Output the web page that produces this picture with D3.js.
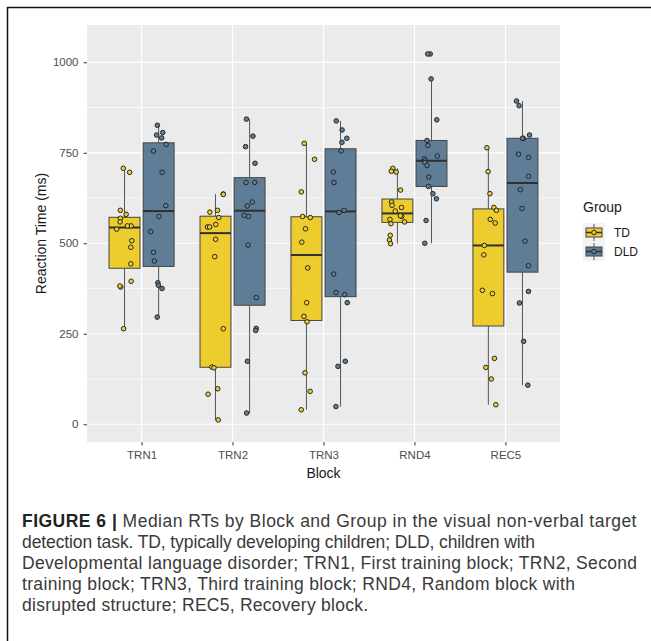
<!DOCTYPE html>
<html>
<head>
<meta charset="utf-8">
<script src="https://cdn.jsdelivr.net/npm/d3@7"></script>
<style>
  html, body { margin: 0; padding: 0; background: #fff; }
  svg { display: block; }
</style>
</head>
<body>
<svg id="fig" width="651" height="641"></svg>
<script>
// Blocks and groups
const blocks = ["TRN1", "TRN2", "TRN3", "RND4", "REC5"];
const groups = ["TD", "DLD"];
const yTicks = [0, 250, 500, 750, 1000];

// Per-child median reaction times (ms), one array per block and group
const tdTRN1  = [707, 696, 591, 580, 569, 559, 548, 548, 539, 507, 489, 443, 395, 379, 382, 264];
const dldTRN1 = [826, 806, 799, 791, 773, 755, 696, 604, 574, 532, 475, 451, 391, 384, 375, 296];
const tdTRN2  = [636, 635, 591, 586, 571, 552, 545, 545, 511, 463, 264, 158, 156, 98, 83, 12];
const dldTRN2 = [843, 796, 767, 721, 668, 668, 614, 603, 574, 577, 495, 350, 265, 259, 174, 31];
const tdTRN3  = [776, 732, 642, 574, 571, 540, 503, 432, 336, 298, 283, 142, 91, 40];
const dldTRN3 = [838, 813, 790, 779, 755, 697, 668, 591, 585, 415, 358, 364, 336, 174, 160, 49];
const tdRND4  = [707, 699, 697, 647, 614, 605, 599, 589, 574, 576, 566, 559, 554, 522, 509, 499];
const dldRND4 = [1023, 1023, 954, 841, 784, 770, 741, 734, 728, 723, 715, 683, 657, 637, 623, 563, 500];
const tdREC5  = [764, 698, 637, 599, 591, 556, 566, 494, 468, 370, 361, 182, 157, 125, 54];
const dldREC5 = [893, 880, 799, 790, 790, 746, 737, 685, 648, 596, 506, 438, 367, 335, 229, 108];

const captionLead = "FIGURE 6";
const caption = [
  "Median RTs by Block and Group in the visual non-verbal target",
  "detection task. TD, typically developing children; DLD, children with",
  "Developmental language disorder; TRN1, First training block; TRN2, Second",
  "training block; TRN3, Third training block; RND4, Random block with",
  "disrupted structure; REC5, Recovery block."
];

const values = {
  TRN1: { TD: tdTRN1, DLD: dldTRN1 },
  TRN2: { TD: tdTRN2, DLD: dldTRN2 },
  TRN3: { TD: tdTRN3, DLD: dldTRN3 },
  RND4: { TD: tdRND4, DLD: dldRND4 },
  REC5: { TD: tdREC5, DLD: dldREC5 }
};

const fills = { TD: "#EDCD2E", DLD: "#5F7D96" };
const dark = "#2f2f2f";
const font = "Liberation Sans, Arial, sans-serif";

const svg = d3.select("#fig");

// figure frame (top and left rules)
svg.append("line").attr("x1", 7).attr("x2", 651).attr("y1", 7.5).attr("y2", 7.5)
  .attr("stroke", "#111").attr("stroke-width", 1.5);
svg.append("line").attr("x1", 7.5).attr("x2", 7.5).attr("y1", 7).attr("y2", 641)
  .attr("stroke", "#111").attr("stroke-width", 1.5);

// panel geometry
const panel = { left: 87, right: 560, top: 25, bottom: 442 };

// discrete x with 0.6-unit expansion on each side
const x = d3.scalePoint().domain(blocks);
const unit = (panel.right - panel.left) / (blocks.length + 0.2);
x.range([panel.left + 0.6 * unit, panel.right - 0.6 * unit]);

const y = d3.scaleLinear().domain([-49, 1103]).range([panel.bottom, panel.top]);

const g = svg.append("g");

// panel background and grid
g.append("rect").attr("x", panel.left).attr("y", panel.top)
  .attr("width", panel.right - panel.left).attr("height", panel.bottom - panel.top)
  .attr("fill", "#EBEBEB");

const minor = [-125, 125, 375, 625, 875, 1125].filter(v => y(v) > panel.top && y(v) < panel.bottom);
g.selectAll(".minor").data(minor).join("line")
  .attr("x1", panel.left).attr("x2", panel.right)
  .attr("y1", d => y(d)).attr("y2", d => y(d))
  .attr("stroke", "#fff").attr("stroke-width", 0.6);
g.selectAll(".major").data(yTicks).join("line")
  .attr("x1", panel.left).attr("x2", panel.right)
  .attr("y1", d => y(d)).attr("y2", d => y(d))
  .attr("stroke", "#fff").attr("stroke-width", 1.2);
g.selectAll(".vgrid").data(blocks).join("line")
  .attr("x1", d => x(d)).attr("x2", d => x(d))
  .attr("y1", panel.top).attr("y2", panel.bottom)
  .attr("stroke", "#fff").attr("stroke-width", 1.2);

// box statistics (Tukey whiskers, type-7 quantiles)
function stats(arr) {
  const s = arr.slice().sort(d3.ascending);
  const q1 = d3.quantile(s, 0.25), med = d3.quantile(s, 0.5), q3 = d3.quantile(s, 0.75);
  const iqr = q3 - q1;
  const lo = d3.min(s.filter(v => v >= q1 - 1.5 * iqr));
  const hi = d3.max(s.filter(v => v <= q3 + 1.5 * iqr));
  return { q1, med, q3, lo, hi };
}

const dodge = 0.1875 * unit;
const boxW = 0.34 * unit;
const rng = d3.randomLcg(0.4217);
const jitter = d3.randomUniform.source(rng)(-0.09 * unit, 0.09 * unit);
const groupX = (b, gi) => x(b) + (gi === 0 ? -dodge : dodge);

blocks.forEach(b => {
  groups.forEach((grp, gi) => {
    const c = groupX(b, gi);
    const st = stats(values[b][grp]);
    const bg = g.append("g");
    bg.append("line").attr("x1", c).attr("x2", c)
      .attr("y1", y(st.hi)).attr("y2", y(st.q3))
      .attr("stroke", "#555").attr("stroke-width", 1);
    bg.append("line").attr("x1", c).attr("x2", c)
      .attr("y1", y(st.q1)).attr("y2", y(st.lo))
      .attr("stroke", "#555").attr("stroke-width", 1);
    bg.append("rect").attr("x", c - boxW / 2).attr("y", y(st.q3))
      .attr("width", boxW).attr("height", y(st.q1) - y(st.q3))
      .attr("fill", fills[grp]).attr("stroke", "#444").attr("stroke-width", 1);
    bg.append("line").attr("x1", c - boxW / 2).attr("x2", c + boxW / 2)
      .attr("y1", y(st.med)).attr("y2", y(st.med))
      .attr("stroke", dark).attr("stroke-width", 2);
  });
});

// jittered individual points
blocks.forEach(b => {
  groups.forEach((grp, gi) => {
    const c = groupX(b, gi);
    g.append("g").selectAll("circle").data(values[b][grp]).join("circle")
      .attr("cx", () => c + jitter())
      .attr("cy", d => y(d))
      .attr("r", 2.3)
      .attr("fill", fills[grp])
      .attr("stroke", "#262626").attr("stroke-width", 1);
  });
});

// axes
const yAxis = d3.axisLeft(y).tickValues(yTicks).tickFormat(d3.format("d")).tickSize(3.5).tickPadding(5);
const ya = svg.append("g").attr("transform", `translate(${panel.left},0)`).call(yAxis);
ya.select(".domain").remove();
ya.selectAll("line").attr("stroke", "#333");
ya.selectAll("text").attr("fill", "#4D4D4D").attr("font-size", 11.5).attr("font-family", font);

const xAxis = d3.axisBottom(x).tickSize(3.5).tickPadding(5);
const xa = svg.append("g").attr("transform", `translate(0,${panel.bottom})`).call(xAxis);
xa.select(".domain").remove();
xa.selectAll("line").attr("stroke", "#333");
xa.selectAll("text").attr("fill", "#4D4D4D").attr("font-size", 11.5).attr("font-family", font);

svg.append("text").attr("x", (panel.left + panel.right) / 2).attr("y", 478)
  .attr("text-anchor", "middle").attr("font-size", 14)
  .attr("font-family", font).attr("fill", "#1a1a1a")
  .text("Block");
svg.append("text").attr("transform", `translate(46,${(panel.top + panel.bottom) / 2}) rotate(-90)`)
  .attr("text-anchor", "middle").attr("font-size", 14)
  .attr("font-family", font).attr("fill", "#1a1a1a")
  .text("Reaction Time (ms)");

// legend
const lg = svg.append("g").attr("transform", "translate(583,0)");
lg.append("text").attr("x", 0).attr("y", 212).attr("font-size", 14)
  .attr("font-family", font).attr("fill", "#1a1a1a").text("Group");
groups.forEach((grp, i) => {
  const ky = 223 + i * 19;
  const k = lg.append("g").attr("transform", `translate(0,${ky})`);
  k.append("rect").attr("x", 0).attr("y", 0).attr("width", 22).attr("height", 19).attr("fill", "#F2F2F2");
  k.append("line").attr("x1", 11).attr("x2", 11).attr("y1", 1).attr("y2", 18)
    .attr("stroke", "#555").attr("stroke-width", 1);
  k.append("rect").attr("x", 3).attr("y", 5).attr("width", 16).attr("height", 9)
    .attr("fill", fills[grp]).attr("stroke", "#444").attr("stroke-width", 1);
  k.append("line").attr("x1", 3).attr("x2", 19).attr("y1", 9.5).attr("y2", 9.5)
    .attr("stroke", dark).attr("stroke-width", 1.5);
  k.append("circle").attr("cx", 11).attr("cy", 9.5).attr("r", 2.3)
    .attr("fill", fills[grp]).attr("stroke", "#262626").attr("stroke-width", 1);
  lg.append("text").attr("x", 31).attr("y", ky + 14).attr("font-size", 12)
    .attr("font-family", font).attr("fill", "#1a1a1a").text(grp);
});

// caption, each line spread to its measured width
const lineRight = [637, 535, 637, 575, 368];
const cap = svg.append("g").attr("font-family", font)
  .attr("font-size", 17.5).attr("fill", "#3a3a3a");
caption.forEach((line, i) => {
  const t = cap.append("text").attr("x", 22).attr("y", 527 + i * 21);
  if (i === 0) {
    t.append("tspan").attr("font-weight", "bold").attr("fill", "#222").text(captionLead);
    t.append("tspan").attr("fill", "#222").attr("font-weight", "bold").text(" |");
    t.append("tspan").text("  " + line);
  } else {
    t.text(line);
  }
  const natural = t.node().getComputedTextLength();
  const chars = t.text().length;
  const target = lineRight[i] - 22;
  t.attr("letter-spacing", ((target - natural) / (chars - 1)).toFixed(3));
});
</script>
</body>
</html>
